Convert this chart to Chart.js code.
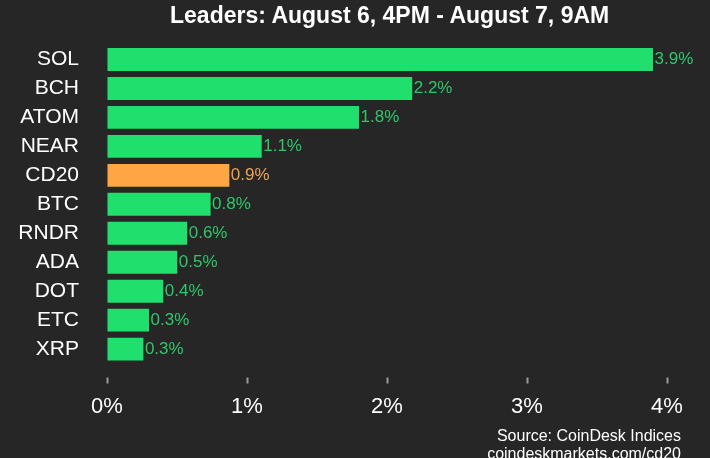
<!doctype html>
<html>
<head>
<meta charset="utf-8">
<title>CD20 leaders</title>
<script src="https://cdn.jsdelivr.net/npm/chart.js"></script>
<style>
    body {margin: 0; background: #262626;}
    #wrap {position: relative; width: 710px; height: 458px; overflow: hidden; font-family: 'Liberation Sans', Arial, sans-serif;}
    #title {position: absolute; left: 170px; top: 3.8px; font-size: 23px; line-height: 23px; font-weight: bold; color: #fff; white-space: nowrap;}
    #source {position: absolute; right: 29px; top: 427px; font-size: 16px; line-height: 18px; color: #fff; text-align: right; white-space: nowrap;}
</style>
</head>
<body>
<div id="wrap">
    <canvas id="chart" width="710" height="458"></canvas>
    <div id="title">Leaders: August 6, 4PM - August 7, 9AM</div>
    <div id="source">Source: CoinDesk Indices<br>coindeskmarkets.com/cd20</div>
</div>
<script>
let coins = ['SOL', 'BCH', 'ATOM', 'NEAR', 'CD20', 'BTC', 'RNDR', 'ADA', 'DOT', 'ETC', 'XRP']
let changes = [3.9, 2.18, 1.8, 1.105, 0.874, 0.74, 0.573, 0.502, 0.402, 0.3, 0.26]
let valueLabels = ['3.9%', '2.2%', '1.8%', '1.1%', '0.9%', '0.8%', '0.6%', '0.5%', '0.4%', '0.3%', '0.3%']
let xTicks = [0, 1, 2, 3, 4]

let green = '#21df6c'
let orange = '#fda643'
let barColors = coins.map(c => c === 'CD20' ? orange : green)
let labelColors = coins.map(c => c === 'CD20' ? '#eea253' : '#2fc66a')

// percent label just right of each bar
let valueLabelPlugin = {
    id: 'valueLabels',
    afterDatasetsDraw(chart) {
        let ctx = chart.ctx
        let meta = chart.getDatasetMeta(0)
        ctx.save()
        ctx.font = '17px "Liberation Sans", Arial, sans-serif'
        ctx.textAlign = 'left'
        ctx.textBaseline = 'middle'
        meta.data.forEach(function (bar, i) {
            ctx.fillStyle = labelColors[i]
            ctx.fillText(valueLabels[i], bar.x + 1.5, bar.y)
        })
        ctx.restore()
    }
}

new Chart(document.getElementById('chart'), {
    type: 'bar',
    data: {
        labels: coins,
        datasets: [{
            data: changes,
            backgroundColor: barColors,
            barPercentage: 0.79,
            categoryPercentage: 1
        }]
    },
    options: {
        indexAxis: 'y',
        responsive: false,
        animation: false,
        layout: {padding: {top: 45, right: 43, bottom: 28, left: 0}},
        plugins: {legend: {display: false}, tooltip: {enabled: false}},
        scales: {
            x: {
                min: 0,
                max: 4,
                afterBuildTicks(scale) { scale.ticks = xTicks.map(v => ({value: v})) },
                border: {display: false},
                grid: {
                    drawOnChartArea: false,
                    drawTicks: true,
                    tickLength: 20,
                    tickBorderDash: [0, 13.5, 6, 100],
                    tickColor: '#9a9a9a',
                    tickWidth: 2
                },
                ticks: {
                    color: '#fff',
                    padding: 10,
                    font: {family: '"Liberation Sans", Arial, sans-serif', size: 22},
                    callback: v => v + '%'
                }
            },
            y: {
                afterFit(scale) { scale.width = 107 },
                border: {display: false},
                grid: {display: false, drawTicks: false},
                ticks: {
                    autoSkip: false,
                    color: '#fff',
                    padding: 28,
                    font: {family: '"Liberation Sans", Arial, sans-serif', size: 21}
                }
            }
        }
    },
    plugins: [valueLabelPlugin]
})
</script>
</body>
</html>
